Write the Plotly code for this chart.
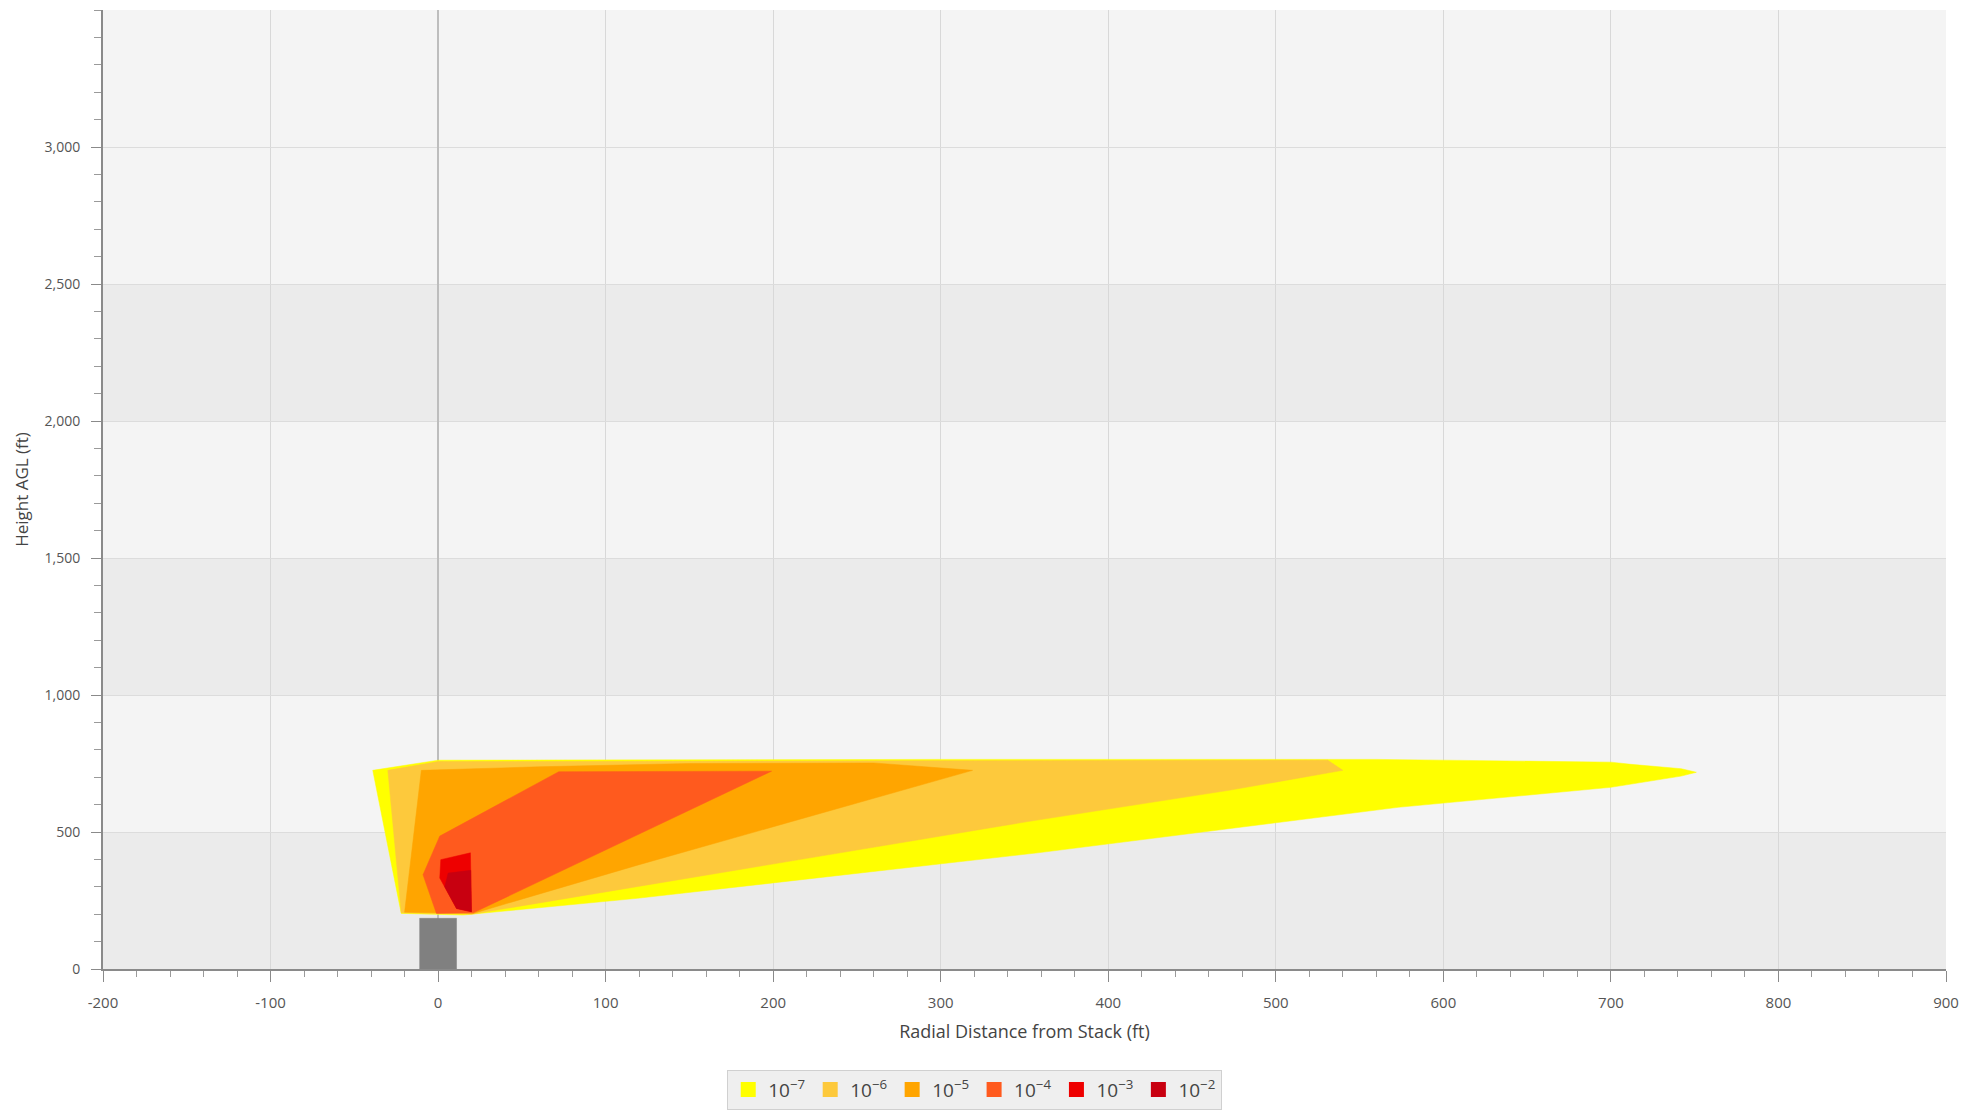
import plotly.graph_objects as go

# ---------------- data ----------------
levels = ["10<sup>−7</sup>", "10<sup>−6</sup>", "10<sup>−5</sup>", "10<sup>−4</sup>", "10<sup>−3</sup>", "10<sup>−2</sup>"]
level_colors = ["#ffff00", "#fdc93c", "#ffa500", "#ff5a1e", "#ee0000", "#c80010"]

# plume contour polygons (radial distance ft, height ft)
c7_x = [-39, 0, 300, 560, 700, 712, 742, 751, 742, 700, 573, 358, 119, 15, -22]
c7_y = [725, 762, 765, 765, 755, 747, 731, 718, 704, 663, 590, 424, 258, 197, 203]

c6_x = [-30, 0, 300, 531, 540, 472, 352, 120, 20, -22]
c6_y = [725, 757, 760, 762, 725, 652, 538, 300, 200, 205]

c5_x = [-10, 60, 150, 260, 319, 119, 21, -20]
c5_y = [725, 738, 750, 752, 725, 379, 203, 207]

c4_x = [1, 72, 199, 21, -1, -9]
c4_y = [485, 720, 722, 205, 203, 344]

c3_x = [1.6, 19.3, 19.9, 11, 1]
c3_y = [399, 424, 209, 221, 332]

c2_x = [6, 19.5, 19.9, 11, 4]
c2_y = [350, 360, 209, 221, 300]

contours_x = [c7_x, c6_x, c5_x, c4_x, c3_x, c2_x]
contours_y = [c7_y, c6_y, c5_y, c4_y, c3_y, c2_y]

# stack
stack_x = [-11, 11, 11, -11]
stack_y = [0, 0, 185, 185]

# background bands (height ranges)
band_ranges = [[0, 500], [1000, 1500], [2000, 2500]]

x_tick_vals = [-200, -100, 0, 100, 200, 300, 400, 500, 600, 700, 800, 900]
x_tick_labels = ["-200", "-100", "0", "100", "200", "300", "400", "500", "600", "700", "800", "900"]
y_tick_vals = [0, 500, 1000, 1500, 2000, 2500, 3000]
y_tick_labels = ["0", "500", "1,000", "1,500", "2,000", "2,500", "3,000"]

# ---------------- figure ----------------
fig = go.Figure()

for xs, ys, col in zip(contours_x, contours_y, level_colors):
    fig.add_trace(go.Scatter(
        x=xs + [xs[0]], y=ys + [ys[0]], mode="lines", fill="toself",
        fillcolor=col, line=dict(color=col, width=0.5),
        showlegend=False, hoverinfo="skip"))

fig.add_trace(go.Scatter(
    x=stack_x + [stack_x[0]], y=stack_y + [stack_y[0]], mode="lines", fill="toself",
    fillcolor="#808080", line=dict(color="#808080", width=0.5),
    showlegend=False, hoverinfo="skip"))

# legend entries
for name, col in zip(levels, level_colors):
    fig.add_trace(go.Scatter(
        x=[None], y=[None], mode="markers", name=name,
        marker=dict(symbol="square", size=15, color=col)))

shapes = []
for lo, hi in band_ranges:
    shapes.append(dict(type="rect", xref="paper", yref="y", x0=0, x1=1, y0=lo, y1=hi,
                       fillcolor="#ebebeb", line=dict(width=0), layer="below"))

font_family = "Open Sans, Noto Sans, Arial, sans-serif"

fig.update_layout(
    width=1968, height=1115,
    margin=dict(l=103, r=22, t=10, b=146, autoexpand=False),
    paper_bgcolor="white",
    plot_bgcolor="#f4f4f4",
    shapes=shapes,
    font=dict(family=font_family, color="#555555"),
    showlegend=True,
    legend=dict(orientation="h", x=0.473, xanchor="center", y=-0.105, yanchor="top",
                bgcolor="#efefef", bordercolor="#d0d0d0", borderwidth=1,
                font=dict(size=19, color="#444444"), itemwidth=30,
                tracegroupgap=0),
    xaxis=dict(
        range=[-200, 900], tickmode="array", tickvals=x_tick_vals, ticktext=x_tick_labels,
        automargin=False,
        showgrid=True, gridcolor="#d8d8d8", gridwidth=1,
        zeroline=True, zerolinecolor="#bdbdbd", zerolinewidth=2,
        showline=True, linecolor="#8a8a8a", linewidth=2,
        ticks="outside", ticklen=11, tickwidth=1, tickcolor="#8a8a8a",
        ticklabelstandoff=8,
        minor=dict(dtick=20, ticks="outside", ticklen=6, tickcolor="#9a9a9a", showgrid=False),
        tickfont=dict(size=15, color="#555555"),
        title=dict(text="Radial Distance from Stack (ft)", font=dict(size=18, color="#444444"), standoff=14),
    ),
    yaxis=dict(
        range=[0, 3500], tickmode="array", tickvals=y_tick_vals, ticktext=y_tick_labels,
        automargin=False,
        showgrid=True, gridcolor="#dcdcdc", gridwidth=1,
        zeroline=False,
        showline=True, linecolor="#8a8a8a", linewidth=2,
        ticks="outside", ticklen=10, tickwidth=1, tickcolor="#8a8a8a",
        ticklabelstandoff=8,
        minor=dict(dtick=100, ticks="outside", ticklen=7, tickcolor="#9a9a9a", showgrid=False),
        tickfont=dict(size=14, color="#555555"),
        title=dict(text="Height AGL (ft)", font=dict(size=17, color="#444444"), standoff=12),
    ),
)

fig.write_html("out.html", config={"displayModeBar": False},
               post_script="document.body.style.margin='0';")
